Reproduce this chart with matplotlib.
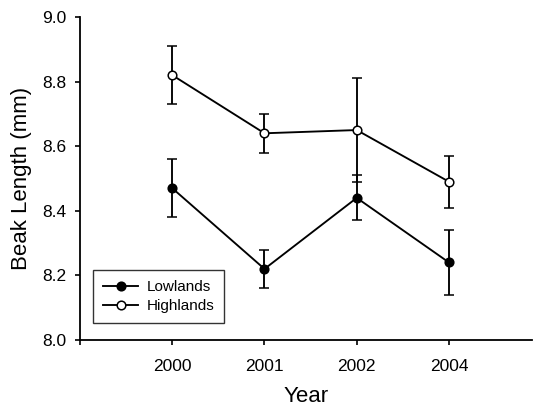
import matplotlib
matplotlib.use("Agg")
import matplotlib.pyplot as plt
from matplotlib.lines import Line2D
import numpy as np

years = ["2000", "2001", "2002", "2004"]
lowlands = [8.47, 8.22, 8.44, 8.24]
lowlands_err = [0.09, 0.06, 0.07, 0.10]
highlands = [8.82, 8.64, 8.65, 8.49]
highlands_err = [0.09, 0.06, 0.16, 0.08]

plt.rcParams['font.family'] = ['Liberation Sans', 'DejaVu Sans']

W, H = 533, 409
fig = plt.figure(figsize=(W / 100, H / 100), dpi=100)
ax = fig.add_axes([80 / W, (H - 340) / H, (532 - 80) / W, (340 - 17) / H])

x = np.arange(len(years))
lw = 1.35
common = dict(color='black', lw=lw, elinewidth=lw, capsize=3.4, capthick=lw,
              markersize=6.2, markeredgewidth=1.1, markeredgecolor='black')
ax.errorbar(x, lowlands, yerr=lowlands_err, marker='o', markerfacecolor='black', **common)
ax.errorbar(x, highlands, yerr=highlands_err, marker='o', markerfacecolor='white', **common)

ax.set_xlim(-1.0, 3.9)
ax.set_ylim(8.0, 9.0)
ax.set_xticks([-1] + list(x))
ax.set_xticklabels([''] + years)
yt = np.arange(8.0, 9.01, 0.2)
ax.set_yticks(yt)
ax.set_yticklabels([f"{v:.1f}" for v in yt])

for s in ['top', 'right']:
    ax.spines[s].set_visible(False)
for s in ['left', 'bottom']:
    ax.spines[s].set_linewidth(1.3)
ax.tick_params(axis='both', direction='out', length=3.5, width=1.2, labelsize=12.5)
ax.tick_params(axis='y', pad=6.5)
ax.tick_params(axis='x', pad=10)

ax.set_xlabel('Year', fontsize=16, labelpad=8.5)
ax.set_ylabel('Beak Length (mm)', fontsize=16, labelpad=7)

handles = [
    Line2D([], [], color='black', lw=lw, marker='o', markersize=6.2,
           markerfacecolor='black', markeredgecolor='black', markeredgewidth=1.1),
    Line2D([], [], color='black', lw=lw, marker='o', markersize=6.2,
           markerfacecolor='white', markeredgecolor='black', markeredgewidth=1.1),
]
leg = ax.legend(handles, ['Lowlands', 'Highlands'], loc='lower left',
                bbox_to_anchor=(0.029, 0.053), borderaxespad=0,
                fontsize=11, frameon=True, fancybox=False, handlelength=2.3,
                handletextpad=0.55, labelspacing=0.3, borderpad=0.65)
leg.get_frame().set_edgecolor('black')
leg.get_frame().set_linewidth(1.0)

fig.savefig('out.png', dpi=100)
